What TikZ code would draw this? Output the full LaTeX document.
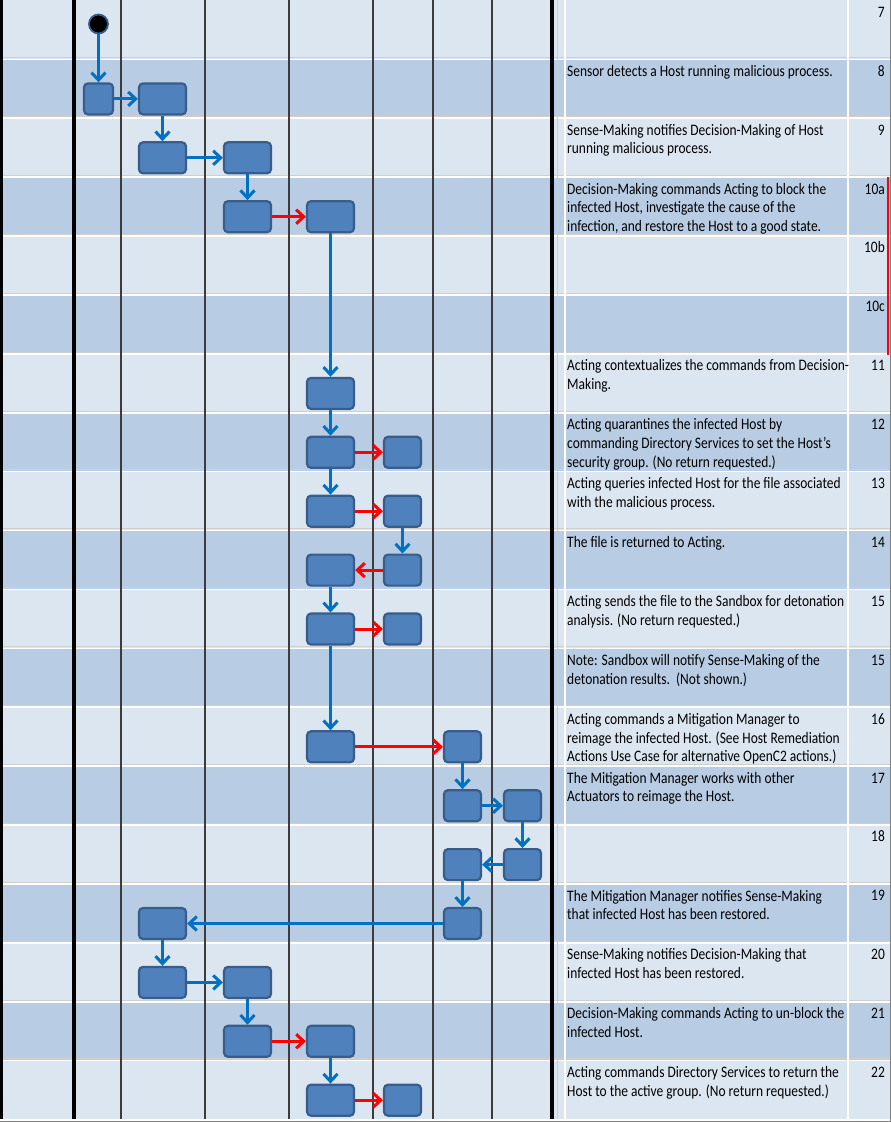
\documentclass[tikz,border=0pt]{standalone}
\usepackage{fontspec}
\setmainfont{Carlito}[FakeStretch=0.84]
\usetikzlibrary{arrows.meta}
\definecolor{lightrow}{HTML}{DCE6F1}
\definecolor{darkrow}{HTML}{B8CCE4}
\definecolor{boxfill}{HTML}{4F81BD}
\definecolor{boxline}{HTML}{385D8A}
\definecolor{flowblue}{HTML}{0070C0}
\definecolor{flowred}{HTML}{FF0000}
\definecolor{gridgray}{HTML}{3C3C3C}
\definecolor{sepgray}{HTML}{CFCFCF}
\begin{document}
\begin{tikzpicture}[x=1pt,y=-1pt,
  act/.style={rectangle, rounded corners=4pt, fill=boxfill, draw=boxline, line width=2.2pt, inner sep=0pt, minimum height=31pt},
  wide/.style={act, minimum width=47pt},
  narrow/.style={act, minimum width=37pt},
  small/.style={act, minimum width=29pt},
  startnode/.style={circle, fill=black, draw=boxline, line width=1.8pt, minimum size=19pt, inner sep=0pt},
  flow/.style={draw=flowblue, line width=3pt, -{Straight Barb[length=7.5pt,width=14pt]}},
  cmd/.style={flow, draw=flowred},
  desc/.style={anchor=north west, inner sep=0pt, align=left, font=\fontsize{16}{18.7}\selectfont},
  num/.style={anchor=base east, inner sep=0pt, font=\fontsize{16}{18.7}\selectfont},
  lanethick/.style={black, line width=3.2pt},
  lanethin/.style={gridgray, line width=2pt},
]
\def\rh{58.9}
\useasboundingbox (0,0) rectangle (891,1122);
\fill[white] (0,0) rectangle (891,1122);
% row backgrounds
\foreach \i in {0,...,18}{
  \ifodd\i \def\rc{darkrow}\else\def\rc{lightrow}\fi
  \fill[\rc] (0,{\i*\rh}) rectangle (891,{\i*\rh+\rh});
}
% row separators
\foreach \i in {1,...,18}{
  \draw[sepgray, line width=1pt] (0,{\i*\rh-1.3}) -- (891,{\i*\rh-1.3});
  \draw[white, line width=1.6pt] (0,{\i*\rh+0.4}) -- (891,{\i*\rh+0.4});
}
% table column lines
\draw[sepgray, line width=1pt] (557,0) -- (557,1119);
\draw[white, line width=1.2pt] (565,0) -- (565,1119);
\draw[white, line width=1.5pt] (848,0) -- (848,1119);
\draw[gray, line width=1pt] (0,1121) -- (891,1121);
\draw[gray, line width=1pt] (890.5,0) -- (890.5,1121);
% swimlane lines
\foreach \x in {121,205,289,373,432.5,492}{
  \draw[lanethin] (\x,0) -- (\x,1119);
}
\draw[lanethick] (1.6,0) -- (1.6,1119);
\draw[lanethick] (74,0) -- (74,1119);
\draw[lanethick] (552,0) -- (552,1119);
% red marker
\draw[flowred, line width=2pt] (888,177) -- (888,355);

% activity nodes
\node[startnode] (start) at (98.5,24) {};
\node[small]  (s8)  at (98.5,{1*\rh+40}) {};
\node[wide]   (d8)  at (162.5,{1*\rh+40}) {};
\node[wide]   (p9)  at (162.5,{2*\rh+40}) {};
\node[wide]   (q9)  at (247.5,{2*\rh+40}) {};
\node[wide]   (q10) at (247.5,{3*\rh+40}) {};
\node[wide]   (r10) at (330.5,{3*\rh+40}) {};
\node[wide]   (r11) at (330.5,{6*\rh+40}) {};
\node[wide]   (r12) at (330.5,{7*\rh+40}) {};
\node[narrow] (t12) at (402.5,{7*\rh+40}) {};
\node[wide]   (r13) at (330.5,{8*\rh+40}) {};
\node[narrow] (t13) at (402.5,{8*\rh+40}) {};
\node[wide]   (r14) at (330.5,{9*\rh+40}) {};
\node[narrow] (t14) at (402.5,{9*\rh+40}) {};
\node[wide]   (r15) at (330.5,{10*\rh+40}) {};
\node[narrow] (t15) at (402.5,{10*\rh+40}) {};
\node[wide]   (r16) at (330.5,{12*\rh+40}) {};
\node[narrow] (u16) at (462.5,{12*\rh+40}) {};
\node[narrow] (u17) at (462.5,{13*\rh+40}) {};
\node[narrow] (v17) at (522.5,{13*\rh+40}) {};
\node[narrow] (u18) at (462.5,{14*\rh+40}) {};
\node[narrow] (v18) at (522.5,{14*\rh+40}) {};
\node[narrow] (u19) at (462.5,{15*\rh+40}) {};
\node[wide]   (p19) at (162.5,{15*\rh+40}) {};
\node[wide]   (p20) at (162.5,{16*\rh+40}) {};
\node[wide]   (q20) at (247.5,{16*\rh+40}) {};
\node[wide]   (q21) at (247.5,{17*\rh+40}) {};
\node[wide]   (r21) at (330.5,{17*\rh+40}) {};
\node[wide]   (r22) at (330.5,{18*\rh+40}) {};
\node[narrow] (t22) at (402.5,{18*\rh+40}) {};

% connectors
\draw[flow] (start.south) -- (s8.north);
\draw[flow] (s8.east) -- (d8.west);
\draw[flow] (d8.south) -- (p9.north);
\draw[flow] (p9.east) -- (q9.west);
\draw[flow] (q9.south) -- (q10.north);
\draw[cmd]  (q10.east) -- (r10.west);
\draw[flow] (r10.south) -- (r11.north);
\draw[flow] (r11.south) -- (r12.north);
\draw[cmd]  (r12.east) -- (t12.west);
\draw[flow] (r12.south) -- (r13.north);
\draw[cmd]  (r13.east) -- (t13.west);
\draw[flow] (t13.south) -- (t14.north);
\draw[cmd]  (t14.west) -- (r14.east);
\draw[flow] (r14.south) -- (r15.north);
\draw[cmd]  (r15.east) -- (t15.west);
\draw[flow] (r15.south) -- (r16.north);
\draw[cmd]  (r16.east) -- (u16.west);
\draw[flow] (u16.south) -- (u17.north);
\draw[flow] (u17.east) -- (v17.west);
\draw[flow] (v17.south) -- (v18.north);
\draw[flow] (v18.west) -- (u18.east);
\draw[flow] (u18.south) -- (u19.north);
\draw[flow] (u19.west) -- (p19.east);
\draw[flow] (p19.south) -- (p20.north);
\draw[flow] (p20.east) -- (q20.west);
\draw[flow] (q20.south) -- (q21.north);
\draw[cmd]  (q21.east) -- (r21.west);
\draw[flow] (r21.south) -- (r22.north);
\draw[cmd]  (r22.east) -- (t22.west);

% descriptions
\node[desc] (x8)  at (567,{1*\rh+4.2})  {\strut Sensor detects a Host running malicious process.};
\node[desc] (x9)  at (567,{2*\rh+4.2})  {\strut Sense-Making notifies Decision-Making of Host\\running malicious process.};
\node[desc] (x10) at (567,{3*\rh+4.2})  {\strut Decision-Making commands Acting to block the\\infected Host, investigate the cause of the\\infection, and restore the Host to a good state.};
\node[desc] (x11) at (567,{6*\rh+4.2})  {\strut Acting contextualizes the commands from Decision-\\Making.};
\node[desc] (x12) at (567,{7*\rh+4.2})  {\strut Acting quarantines the infected Host by\\commanding Directory Services to set the Host's\\security group. (No return requested.)};
\node[desc] (x13) at (567,{8*\rh+4.2})  {\strut Acting queries infected Host for the file associated\\with the malicious process.};
\node[desc] (x14) at (567,{9*\rh+4.2})  {\strut The file is returned to Acting.};
\node[desc] (x15) at (567,{10*\rh+4.2}) {\strut Acting sends the file to the Sandbox for detonation\\analysis. (No return requested.)};
\node[desc] (x15b) at (567,{11*\rh+4.2}) {\strut Note: Sandbox will notify Sense-Making of the\\detonation results.\ \ (Not shown.)};
\node[desc] (x16) at (567,{12*\rh+4.2}) {\strut Acting commands a Mitigation Manager to\\reimage the infected Host. (See Host Remediation\\Actions Use Case for alternative OpenC2 actions.)};
\node[desc] (x17) at (567,{13*\rh+4.2}) {\strut The Mitigation Manager works with other\\Actuators to reimage the Host.};
\node[desc] (x19) at (567,{15*\rh+4.2}) {\strut The Mitigation Manager notifies Sense-Making\\that infected Host has been restored.};
\node[desc] (x20) at (567,{16*\rh+4.2}) {\strut Sense-Making notifies Decision-Making that\\infected Host has been restored.};
\node[desc] (x21) at (567,{17*\rh+4.2}) {\strut Decision-Making commands Acting to un-block the\\infected Host.};
\node[desc] (x22) at (567,{18*\rh+4.2}) {\strut Acting commands Directory Services to return the\\Host to the active group. (No return requested.)};

% step numbers
\node[num] (n7)   at (885,{0*\rh+17.3})  {7};
\node[num] (n8)   at (885,{1*\rh+17.3})  {8};
\node[num] (n9)   at (885,{2*\rh+17.3})  {9};
\node[num] (n10a) at (885,{3*\rh+17.3})  {10a};
\node[num] (n10b) at (885,{4*\rh+17.3})  {10b};
\node[num] (n10c) at (885,{5*\rh+17.3})  {10c};
\node[num] (n11)  at (885,{6*\rh+17.3})  {11};
\node[num] (n12)  at (885,{7*\rh+17.3})  {12};
\node[num] (n13)  at (885,{8*\rh+17.3})  {13};
\node[num] (n14)  at (885,{9*\rh+17.3})  {14};
\node[num] (n15)  at (885,{10*\rh+17.3}) {15};
\node[num] (n15b) at (885,{11*\rh+17.3}) {15};
\node[num] (n16)  at (885,{12*\rh+17.3}) {16};
\node[num] (n17)  at (885,{13*\rh+17.3}) {17};
\node[num] (n18)  at (885,{14*\rh+17.3}) {18};
\node[num] (n19)  at (885,{15*\rh+17.3}) {19};
\node[num] (n20)  at (885,{16*\rh+17.3}) {20};
\node[num] (n21)  at (885,{17*\rh+17.3}) {21};
\node[num] (n22)  at (885,{18*\rh+17.3}) {22};
\end{tikzpicture}
\end{document}
